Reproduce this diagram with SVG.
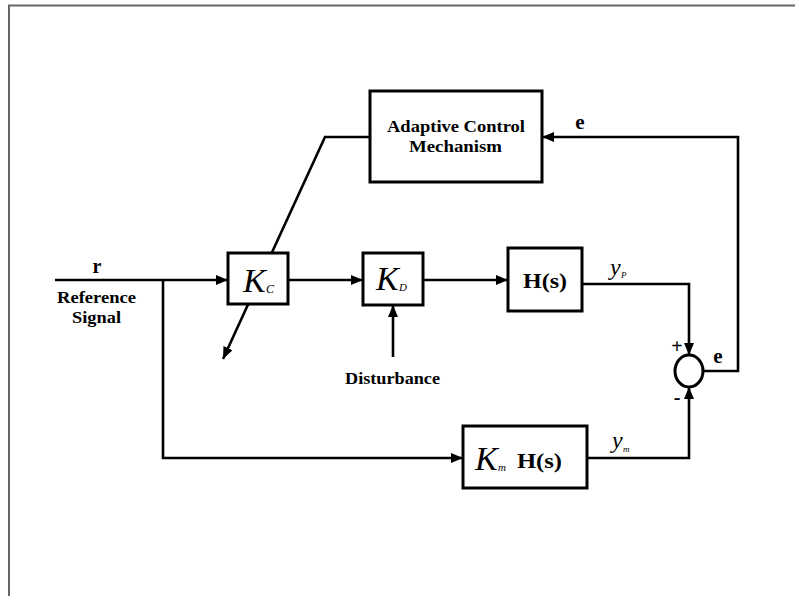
<svg xmlns="http://www.w3.org/2000/svg" width="795" height="596" viewBox="0 0 795 596">
<style>
.box{fill:#fff;stroke:#000;stroke-width:3}
.ln{fill:none;stroke:#000;stroke-width:2.6}
.lbl{font-family:"Liberation Serif",serif;font-weight:bold;fill:#000}
.it{font-family:"Liberation Serif",serif;font-style:italic;fill:#000}
</style>
<defs>
<marker id="ah" markerUnits="userSpaceOnUse" markerWidth="12" markerHeight="10" refX="12" refY="5" orient="auto">
<path d="M0,0 L12,5 L0,10 z" fill="#000"/>
</marker>
</defs>
<rect width="795" height="596" fill="#fff"/>
<path d="M9,596 V5.5 H795" fill="none" stroke="#666" stroke-width="2"/>
<g id="connectors">
<path class="ln" d="M370,137 L325,137 L223,359" marker-end="url(#ah)"/>
<path class="ln" d="M55,280 H228" marker-end="url(#ah)"/>
<path class="ln" d="M288,280 H363" marker-end="url(#ah)"/>
<path class="ln" d="M423,280 H508" marker-end="url(#ah)"/>
<path class="ln" d="M393,357 V305" marker-end="url(#ah)"/>
<path class="ln" d="M582,284 H689 V355" marker-end="url(#ah)"/>
<path class="ln" d="M163,280 V458 H463" marker-end="url(#ah)"/>
<path class="ln" d="M587,458 H689 V387" marker-end="url(#ah)"/>
<path class="ln" d="M703,371 H738 V137 H542" marker-end="url(#ah)"/>
</g>
<g id="acm">
<rect class="box" x="370" y="91" width="172" height="91"/>
<text class="lbl" x="387" y="132" font-size="16.5" textLength="138" lengthAdjust="spacingAndGlyphs">Adaptive Control</text>
<text class="lbl" x="409" y="152" font-size="16.5" textLength="93" lengthAdjust="spacingAndGlyphs">Mechanism</text>
</g>
<g id="kc">
<rect class="box" x="228" y="253" width="60" height="51"/>
<text class="it" x="243" y="292" font-size="34">K</text>
<text class="it" x="266" y="293" font-size="12">C</text>
</g>
<g id="kd">
<rect class="box" x="363" y="253" width="60" height="52"/>
<text class="it" x="376" y="290" font-size="34">K</text>
<text class="it" x="399" y="291" font-size="11">D</text>
</g>
<g id="hs">
<rect class="box" x="508" y="248" width="74" height="63"/>
<text class="lbl" x="523" y="288" font-size="22" textLength="44" lengthAdjust="spacingAndGlyphs">H(s)</text>
</g>
<g id="kmhs">
<rect class="box" x="463" y="426" width="124" height="62"/>
<text class="it" x="475" y="470" font-size="34">K</text>
<text class="it" x="498" y="471" font-size="11">m</text>
<text class="lbl" x="517" y="468" font-size="22" textLength="45" lengthAdjust="spacingAndGlyphs">H(s)</text>
</g>
<g id="sum">
<ellipse cx="689" cy="371" rx="14" ry="16" fill="#fff" stroke="#000" stroke-width="3"/>
<text class="lbl" x="677" y="353" font-size="20" text-anchor="middle">+</text>
<text class="lbl" x="677" y="404" font-size="20" text-anchor="middle">-</text>
</g>
<g id="labels">
<text class="lbl" x="97" y="273" font-size="20" text-anchor="middle">r</text>
<text class="lbl" x="57" y="303" font-size="16" textLength="79" lengthAdjust="spacingAndGlyphs">Reference</text>
<text class="lbl" x="72" y="323" font-size="16" textLength="49" lengthAdjust="spacingAndGlyphs">Signal</text>
<text class="lbl" x="345" y="384" font-size="16" textLength="95" lengthAdjust="spacingAndGlyphs">Disturbance</text>
<text class="lbl" x="580" y="129" font-size="21" text-anchor="middle">e</text>
<text class="lbl" x="718" y="363" font-size="21" text-anchor="middle">e</text>
<text class="it" x="610" y="275" font-size="24">y</text>
<text class="it" x="621" y="278" font-size="9">P</text>
<text class="it" x="612" y="448" font-size="24">y</text>
<text class="it" x="623" y="452" font-size="9">m</text>
</g>
</svg>
